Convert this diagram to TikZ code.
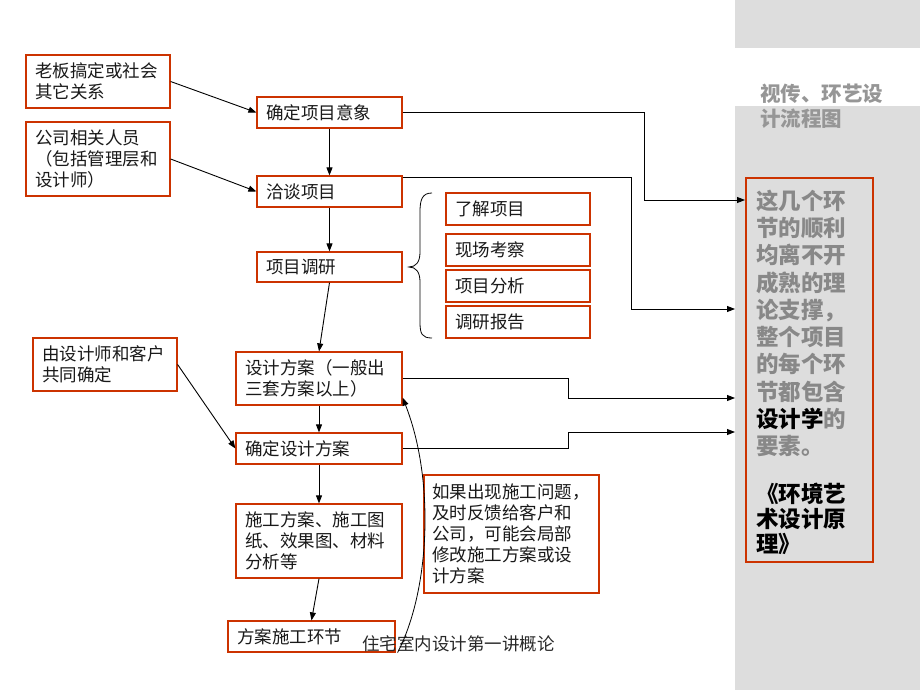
\documentclass[tikz,border=0pt]{standalone}
\usepackage{fontspec}
\newfontfamily\cjk{Noto Sans CJK SC}
\usetikzlibrary{arrows.meta}
\definecolor{boxred}{RGB}{204,51,0}
\definecolor{panel}{RGB}{221,221,221}
\definecolor{graytxt}{RGB}{136,136,136}
\definecolor{titlegray}{RGB}{150,150,150}
\definecolor{txt}{RGB}{25,25,25}
\tikzset{
  box/.style={draw=boxred, line width=1.2pt, font=\cjk\fontsize{17.5}{21}\selectfont,
    text=txt, align=left, inner xsep=9pt, inner ysep=0pt},
  arr/.style={-{Triangle[length=8pt,width=6pt]}, line width=0.9pt, black},
  plain/.style={line width=0.9pt, black},
}
\begin{document}
\begin{tikzpicture}[x=1pt,y=-1pt]
\useasboundingbox (0,0) rectangle (920,690);
\fill[white] (0,0) rectangle (920,690);
\fill[panel] (735,0) rectangle (920,48);
\fill[panel] (735,106) rectangle (920,690);

% left column
\node[box, text width=126pt, minimum height=53pt] (A) at (98,81.5) {老板搞定或社会\\其它关系};
\node[box, text width=126pt, minimum height=74pt] (B) at (98,159) {公司相关人员\\（包括管理层和\\设计师）};
\node[box, text width=126pt, minimum height=53pt] (H) at (105,364.5) {由设计师和客户\\共同确定};

% main flow
\node[box, text width=127pt, minimum height=31pt] (C) at (329.5,112.5) {确定项目意象};
\node[box, text width=127pt, minimum height=31pt] (D) at (329.5,191.5) {洽谈项目};
\node[box, text width=127pt, minimum height=30pt] (E) at (329.5,267) {项目调研};
\node[box, text width=148pt, minimum height=53pt] (F) at (319,378.5) {设计方案（一般出\\三套方案以上）};
\node[box, text width=148pt, minimum height=31pt] (G) at (319,448.5) {确定设计方案};
\node[box, text width=148pt, minimum height=74pt] (I) at (319,541) {施工方案、施工图\\纸、效果图、材料\\分析等};
\node[box, text width=149pt, minimum height=31pt] (K) at (311.5,636.5) {方案施工环节};

% research sub-items
\node[box, text width=126pt, minimum height=32pt] (S1) at (518,209) {了解项目};
\node[box, text width=126pt, minimum height=32pt] (S2) at (518,250) {现场考察};
\node[box, text width=126pt, minimum height=32pt] (S3) at (518,286) {项目分析};
\node[box, text width=126pt, minimum height=32pt] (S4) at (518,322) {调研报告};

% feedback note
\node[box, inner xsep=8pt, text width=159pt, minimum height=118pt] (J) at (511.5,534) {如果出现施工问题，\\及时反馈给客户和\\公司，可能会局部\\修改施工方案或设\\计方案};

% right panel box
\node[draw=boxred, line width=1.2pt, minimum width=127pt, minimum height=384pt, inner sep=0pt] (R) at (809.5,370) {};

% title
\node[anchor=north west, inner sep=0pt, align=left, text=titlegray,
  font=\cjk\bfseries\fontsize{20.5}{25}\selectfont] (title) at (760,83.5) {视传、环艺设\\计流程图};

% right panel texts
\node[anchor=north west, inner sep=0pt, align=left, text=graytxt,
  font=\cjk\bfseries\fontsize{22.5}{27.3}\selectfont] (rt1) at (756,189.5)
  {这几个环\\节的顺利\\均离不开\\成熟的理\\论支撑，\\整个项目\\的每个环\\节都包含\\\textcolor{black}{设计学}的\\要素。};
\node[anchor=north west, inner sep=0pt, align=left, text=black,
  font=\cjk\bfseries\fontsize{22.5}{25}\selectfont] (rt2) at (756,482.5)
  {《环境艺\\术设计原\\理》};

% footer
\node[anchor=west, inner sep=0pt, text={rgb,255:red,40;green,40;blue,40},
  font=\cjk\fontsize{17.5}{21}\selectfont] (foot) at (362,644) {住宅室内设计第一讲概论};

% end coordinates at the panel
\coordinate (e1) at (745,200);
\coordinate (e2) at (735,309);
\coordinate (e3) at (735,398);
\coordinate (e4) at (735,432);

% arrows
\draw[arr] (A.east) -- (C.west);
\draw[arr] (B.east) -- (D.west);
\draw[arr] (C.south) -- (D.north);
\draw[arr] (D.south) -- (E.north);
\draw[arr] (E.south) -- (F.north);
\draw[arr] (F.south) -- (G.north);
\draw[arr] (H.east) -- (G.west);
\draw[arr] (G.south) -- (I.north);
\draw[arr] (I.south) -- (K.north);

\draw[arr] (C.east) -- ++(242,0) |- (e1);
\draw[arr] ([yshift=-2pt]D.north east) -- ++(229,0) |- (e2);
\draw[arr] (F.east) -- ++(166,0) |- (e3);
\draw[arr] (G.east) -- ++(166,0) |- (e4);

% feedback curve
\draw[arr, line width=0.8pt] ([xshift=2pt]K.south east) .. controls (430,590) and (435,480) .. ([yshift=8pt]F.south east);

% brace
\draw[line width=0.8pt] (432,193) .. controls (422,193) and (420,200) .. (420,212)
  -- (420,252) .. controls (420,262) and (416,267) .. (409,267)
  .. controls (416,267) and (420,272) .. (420,282)
  -- (420,322) .. controls (420,334) and (422,338) .. (432,338);
\end{tikzpicture}
\end{document}
